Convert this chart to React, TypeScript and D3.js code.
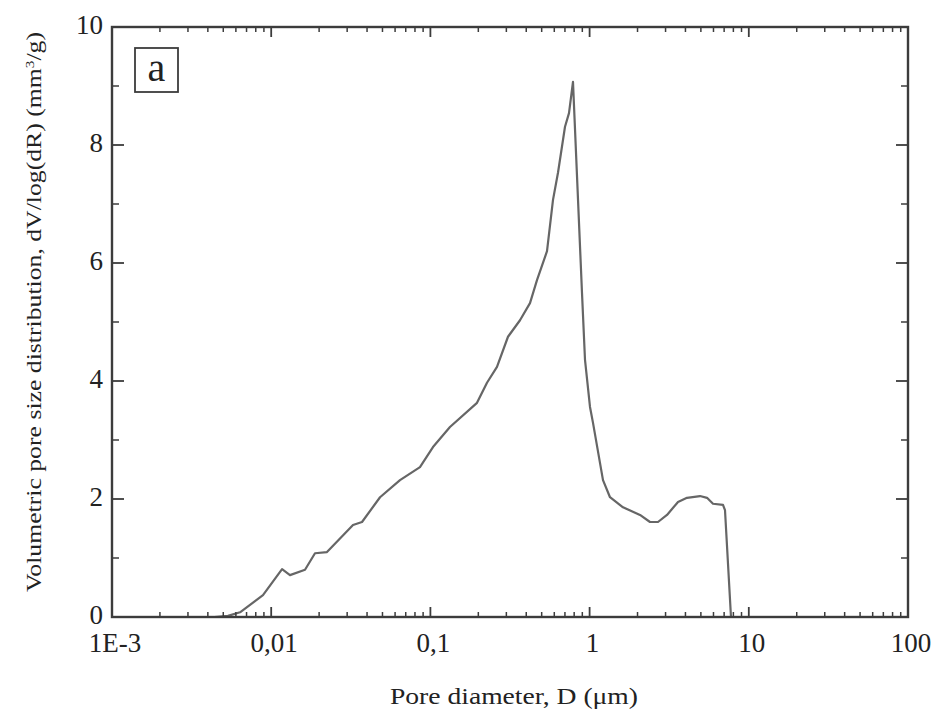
import React from "react";
import * as d3 from "d3";

const diameters = [
  0.0044, 0.00535, 0.00637, 0.00888, 0.0117, 0.01312, 0.01631, 0.01884, 0.02241,
  0.03265, 0.03719, 0.04826, 0.06442, 0.086, 0.1038, 0.1327, 0.1962, 0.2267,
  0.262, 0.3072, 0.3654, 0.4222, 0.4672, 0.5401, 0.589, 0.633, 0.7006, 0.7423,
  0.7864, 0.896, 0.9357, 1.0058, 1.0505, 1.2139, 1.343, 1.621, 2.073, 2.395,
  2.689, 3.063, 3.592, 4.09, 4.937, 5.464, 5.958, 6.885, 7.088, 7.73,
];
const volumes = [
  0.0, 0.02, 0.08, 0.37, 0.81, 0.71, 0.8, 1.08, 1.1, 1.56, 1.61, 2.03, 2.32,
  2.54, 2.88, 3.22, 3.63, 3.97, 4.24, 4.75, 5.03, 5.32, 5.71, 6.2, 7.07, 7.53,
  8.31, 8.54, 9.07, 5.49, 4.36, 3.56, 3.29, 2.32, 2.03, 1.86, 1.73, 1.61, 1.61,
  1.73, 1.95, 2.02, 2.05, 2.02, 1.92, 1.9, 1.81, 0.0,
];

const xMajorTicks = [0.001, 0.01, 0.1, 1, 10, 100];
const xTickLabels = ["1E-3", "0,01", "0,1", "1", "10", "100"];
const yMajorTicks = [0, 2, 4, 6, 8, 10];
const yMinorTicks = [1, 3, 5, 7, 9];

const W = 944;
const H = 717;
const L = 112, R = 908, T = 27, B = 617;

export default function App() {
  const x = d3.scaleLog().domain([0.001, 100]).range([L, R]);
  const y = d3.scaleLinear().domain([0, 10]).range([B, T]);

  const xMinor: number[] = [];
  for (let d = 0; d < xMajorTicks.length - 1; d++) {
    for (let k = 2; k <= 9; k++) xMinor.push(xMajorTicks[d] * k);
  }

  const line = d3
    .line<number>()
    .x((_, i) => x(diameters[i]))
    .y((v) => y(v));

  const frame = "#3c3c3c";
  const fontStyle = { fontFamily: '"Liberation Serif", Tinos, "Times New Roman", Times, serif' };

  return (
    <div style={{ position: "absolute", left: 0, top: 0 }}>
      <svg width={W} height={H} style={{ display: "block", background: "#fff" }}>
        <path d={line(volumes) || ""} fill="none" stroke="#666" strokeWidth={2.2} strokeLinejoin="round" />

        {xMajorTicks.map((t) => (
          <g key={"xm" + t}>
            <line x1={x(t)} x2={x(t)} y1={B} y2={B - 10} stroke={frame} strokeWidth={1.8} />
            <line x1={x(t)} x2={x(t)} y1={T} y2={T + 10} stroke={frame} strokeWidth={1.8} />
          </g>
        ))}
        {xMinor.map((t, i) => (
          <g key={"xn" + i}>
            <line x1={x(t)} x2={x(t)} y1={B} y2={B - 5} stroke={frame} strokeWidth={1.5} />
            <line x1={x(t)} x2={x(t)} y1={T} y2={T + 5} stroke={frame} strokeWidth={1.5} />
          </g>
        ))}
        {yMajorTicks.map((t) => (
          <g key={"ym" + t}>
            <line x1={L} x2={L + 12} y1={y(t)} y2={y(t)} stroke={frame} strokeWidth={1.8} />
            <line x1={R} x2={R - 12} y1={y(t)} y2={y(t)} stroke={frame} strokeWidth={1.8} />
          </g>
        ))}
        {yMinorTicks.map((t) => (
          <g key={"yn" + t}>
            <line x1={L} x2={L + 7} y1={y(t)} y2={y(t)} stroke={frame} strokeWidth={1.5} />
            <line x1={R} x2={R - 7} y1={y(t)} y2={y(t)} stroke={frame} strokeWidth={1.5} />
          </g>
        ))}

        <rect x={L} y={T} width={R - L} height={B - T} fill="none" stroke={frame} strokeWidth={2.4} />

        {xMajorTicks.map((t, i) => (
          <text key={"xl" + t} x={x(t) + 3} y={652} textAnchor="middle" style={fontStyle} fontSize={27} fill="#222">
            {xTickLabels[i]}
          </text>
        ))}
        {yMajorTicks.map((t) => (
          <text key={"yl" + t} x={103} y={y(t) - 2} dy="0.33em" textAnchor="end" style={fontStyle} fontSize={27} fill="#222">
            {t}
          </text>
        ))}

        <text x={514} y={704} textAnchor="middle" style={fontStyle} fontSize={24} fill="#222" textLength={248} lengthAdjust="spacingAndGlyphs">
          Pore diameter, D (μm)
        </text>
        <text
          transform="translate(41,312) rotate(-90)"
          textAnchor="middle"
          style={fontStyle}
          fontSize={22}
          fill="#222"
          textLength={560}
          lengthAdjust="spacingAndGlyphs"
        >
          Volumetric pore size distribution, dV/log(dR) (mm<tspan baselineShift="super" fontSize={13}>3</tspan>/g)
        </text>

        <rect x={135} y={48} width={43} height={44} fill="#fff" stroke={frame} strokeWidth={1.8} />
        <text x={156.5} y={81} textAnchor="middle" style={fontStyle} fontSize={40} fill="#222">
          a
        </text>
      </svg>
    </div>
  );
}
